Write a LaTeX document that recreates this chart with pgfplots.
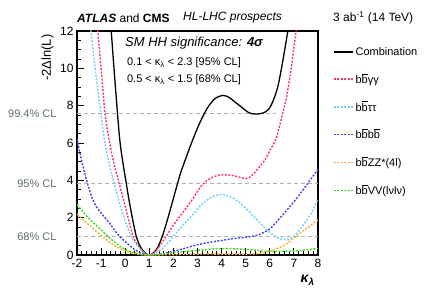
\documentclass[border=0pt]{standalone}
\usepackage{fontspec}
\setmainfont{Liberation Sans}
\usepackage{pgfplots}
\pgfplotsset{compat=1.18}
\definecolor{cpink}{RGB}{255,51,102}
\definecolor{clblue}{RGB}{110,208,250}
\definecolor{cblue}{RGB}{68,68,235}
\definecolor{corange}{RGB}{255,170,51}
\definecolor{cgreen}{RGB}{60,220,30}
\definecolor{cgrayline}{RGB}{175,175,175}
\definecolor{clabel}{RGB}{95,110,110}
\newcommand{\bb}{b\ensuremath{\overline{\mbox{b}}}}
\begin{document}
\begin{tikzpicture}
\path[use as bounding box] (-77bp,-42bp) rectangle (359bp,255bp);
\begin{axis}[
  scale only axis, width=241bp, height=224bp,
  xmin=-2, xmax=8, ymin=0, ymax=12,
  xtick={-2,...,8}, ytick={0,2,...,12},
  minor x tick num=4, minor y tick num=3,
  xtick pos=bottom, ytick pos=left,
  tick align=inside,
  major tick length=7bp, minor tick length=4bp,
  axis line style={line width=1.1bp},
  every tick/.style={black, line width=0.8bp},
  /pgf/number format/assume math mode=true,
  tick label style={font=\fontsize{12bp}{14bp}\selectfont},
  xticklabel style={yshift=-1bp},
  clip mode=individual,
  xlabel={\bfseries\itshape κ\textsubscript{λ}},
  xlabel style={at={(rel axis cs:1,0)}, anchor=north east, yshift=-17bp, font=\fontsize{14bp}{16bp}\selectfont},
  ylabel={-2Δln(L)},
  ylabel style={at={(rel axis cs:0,1)}, anchor=south east, yshift=20bp, font=\fontsize{13bp}{15bp}\selectfont},
  legend style={at={(1,1)}, anchor=north west, xshift=12bp, yshift=-12bp, draw=none, fill=none,
    font=\fontsize{11bp}{13bp}\selectfont, row sep=12.5bp, cells={anchor=west}},
  legend image code/.code={\draw[#1] (0bp,0bp) -- (19bp,0bp);},
  every axis plot/.append style={line width=1.4bp},
]
% CL lines
\addplot[forget plot, cgrayline, line width=1.1bp, dash pattern=on 4bp off 3bp] coordinates {(-2,1) (8,1)};
\addplot[forget plot, cgrayline, line width=1.1bp, dash pattern=on 4bp off 3bp] coordinates {(-2,3.84) (8,3.84)};
\addplot[forget plot, cgrayline, line width=1.1bp, dash pattern=on 4bp off 3bp] coordinates {(-2,7.56) (6.25,7.56)};

\addplot[black, solid, smooth, line width=1.3bp] coordinates {
(-0.65,13.1) (-0.58,12) (-0.4,8.9) (-0.21,6.0) (0.04,3.87) (0.2,2.65) (0.46,1.0) (0.7,0.3) (1,0)
(1.3,0.3) (1.54,1.0) (1.8,2.1) (2.1,3.5) (2.3,4.4) (2.55,5.3) (2.75,6.0) (3.0,6.8) (3.25,7.5)
(3.5,8.05) (3.75,8.4) (4.05,8.55) (4.3,8.45) (4.55,8.2) (4.8,7.95) (5.1,7.65) (5.35,7.55)
(5.7,7.6) (5.95,7.8) (6.15,8.3) (6.33,9.0) (6.5,10.1) (6.62,11) (6.75,12) (6.85,12.8)};
\addlegendentry{Combination}

\addplot[cpink, dash pattern=on 2bp off 1.5bp, smooth] coordinates {
(-1.2,13.0) (-1.14,12) (-1.0,10) (-0.83,7.5) (-0.63,5.9) (-0.45,4.8) (-0.25,3.84) (0,2.6)
(0.33,1) (0.6,0.4) (0.8,0.1) (1,0) (1.3,0.25) (1.7,1.0) (2.0,1.6) (2.4,2.3) (2.8,3.0)
(3.1,3.6) (3.4,4.0) (3.8,4.25) (4.1,4.3) (4.5,4.25) (4.8,4.15) (5.05,4.1) (5.25,4.25)
(5.5,4.6) (5.8,5.1) (6.0,5.6) (6.25,6.2) (6.5,7.4) (6.7,8.5) (6.9,10.1) (7.08,11.9) (7.15,12.6)};
\addlegendentry{\bb γγ}

\addplot[clblue, dash pattern=on 2bp off 1.5bp, smooth] coordinates {
(-1.5,13.0) (-1.42,12) (-1.25,10) (-1.0,7.5) (-0.83,5.9) (-0.46,3.84) (-0.1,2.2) (0.25,1.0)
(0.6,0.35) (1,0) (1.5,0.3) (2.0,1.0) (2.4,1.6) (2.8,2.15) (3.2,2.75) (3.6,3.1) (4.0,3.25)
(4.4,3.1) (4.8,2.75) (5.2,2.25) (5.6,1.7) (6.0,1.2) (6.4,0.88) (6.75,0.82) (7.0,1.0)
(7.3,1.45) (7.7,2.2) (8.0,3.0)};
\addlegendentry{\bb ττ}

\addplot[cblue, dash pattern=on 2bp off 1.5bp, smooth] coordinates {
(-2,6.2) (-1.8,5.0) (-1.6,4.0) (-1.4,3.15) (-1.2,2.6) (-1.0,2.25) (-0.65,1.7) (-0.3,1.1)
(0.08,0.62) (0.5,0.2) (1,0) (1.5,0.05) (2.0,0.2) (2.5,0.37) (3.0,0.55) (3.5,0.68) (4.0,0.78)
(4.5,0.88) (5.0,0.95) (5.5,1.07) (6.0,1.4) (6.5,2.1) (7.0,2.85) (7.5,3.7) (8.0,4.6)};
\addlegendentry{\bb\bb}

\addplot[corange, dash pattern=on 2bp off 1.5bp, smooth] coordinates {
(-2,2.2) (-1.5,1.6) (-1.0,1.05) (-0.5,0.55) (0,0.22) (0.5,0.05) (1,0) (2,0.02) (3,0.05)
(4,0.05) (5,0.05) (5.6,0.08) (6.0,0.2) (6.5,0.45) (6.9,0.8) (7.4,1.3) (8.0,1.88)};
\addlegendentry{\bb ZZ*(4l)}

\addplot[cgreen, dash pattern=on 2bp off 1.5bp, smooth] coordinates {
(-2,2.7) (-1.5,1.95) (-1.0,1.35) (-0.5,0.75) (0,0.3) (0.5,0.08) (1,0) (2,0.12) (3,0.25)
(4,0.35) (5,0.3) (6,0.2) (7,0.22) (8,0.35)};
\addlegendentry{\bb VV(lνlν)}

% texts
\node[anchor=east, clabel, font=\fontsize{11bp}{13bp}\selectfont, xshift=-17bp] at (axis cs:-2,7.56) {99.4\% CL};
\node[anchor=east, clabel, font=\fontsize{11bp}{13bp}\selectfont, xshift=-17bp] at (axis cs:-2,3.84) {95\% CL};
\node[anchor=east, clabel, font=\fontsize{11bp}{13bp}\selectfont, xshift=-17bp] at (axis cs:-2,1) {68\% CL};

\node[anchor=west, inner sep=0pt, font=\fontsize{13bp}{15bp}\selectfont\itshape] at (rel axis cs:0.199,0.946) {SM HH significance: \textbf{4σ}};
\node[anchor=west, inner sep=0pt, font=\fontsize{11bp}{13bp}\selectfont] at (rel axis cs:0.207,0.857) {0.1 < κ\textsubscript{λ} < 2.3 [95\% CL]};
\node[anchor=west, inner sep=0pt, font=\fontsize{11bp}{13bp}\selectfont] at (rel axis cs:0.207,0.781) {0.5 < κ\textsubscript{λ} < 1.5 [68\% CL]};
\end{axis}
\node[anchor=west, inner sep=0pt, font=\fontsize{12bp}{14bp}\selectfont] at (0bp,237bp) {\textbf{\textit{ATLAS}} and \textbf{CMS}};
\node[anchor=west, inner sep=0pt, font=\fontsize{12bp}{14bp}\selectfont\itshape] at (106bp,237bp) {HL-LHC prospects};
\node[anchor=west, inner sep=0pt, font=\fontsize{12bp}{14bp}\selectfont] at (256bp,237bp) {3 ab\textsuperscript{-1} (14 TeV)};
\end{tikzpicture}
\end{document}
